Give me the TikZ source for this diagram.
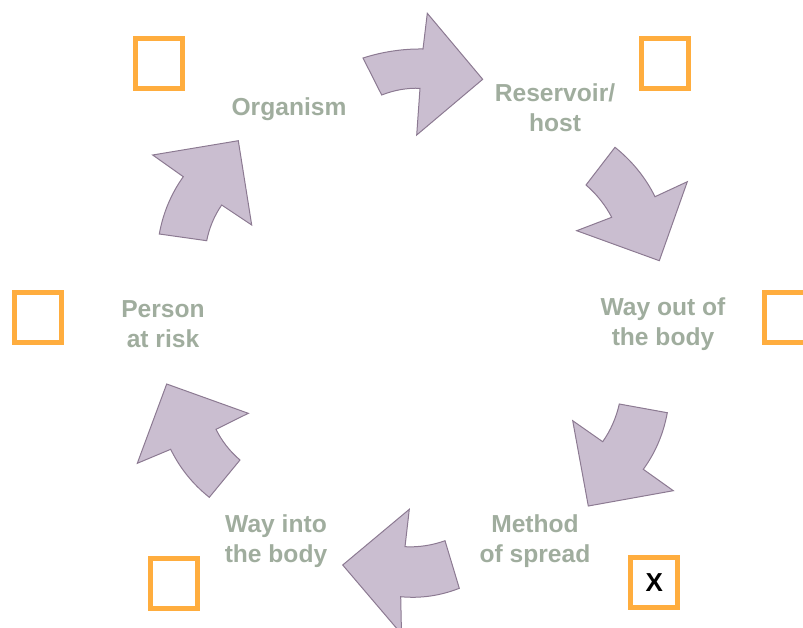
\documentclass[tikz,border=0pt]{standalone}
\usepackage{fontspec}
\setmainfont{Liberation Sans}
\definecolor{arrfill}{RGB}{202,190,208}
\definecolor{arrdraw}{RGB}{140,122,146}
\definecolor{lbl}{RGB}{160,173,158}
\definecolor{boxor}{RGB}{255,173,62}
\begin{document}
\begin{tikzpicture}[x=1pt,y=-1pt,
  cyclearrow/.style={fill=arrfill,draw=arrdraw,line width=1pt,line join=miter},
  stagelabel/.style={text=lbl,font=\fontsize{24.6}{30}\selectfont\bfseries,align=center,inner sep=0pt},
  tickbox/.style={draw=boxor,line width=5pt,minimum width=47pt,minimum height=50pt,inner sep=0pt,font=\fontsize{26}{30}\selectfont\bfseries}]
\useasboundingbox (0,0) rectangle (803,627);
\begin{scope}
\clip (0,0) rectangle (803,627);
% arrow 1 (top)
\draw[cyclearrow] (363,58) .. controls (382.8,51.7) and (402.8,48.7) .. (423,49) -- (427.3,13.3) -- (482.7,79.3) -- (416.7,135) -- (420,88.3) .. controls (407.2,87.8) and (394.4,90) .. (381.7,95) -- cycle;
% arrow 2 (upper right)
\draw[cyclearrow] (615,147.3) .. controls (632.3,161.2) and (645.6,177.7) .. (655,196.7) -- (687.3,181.7) -- (659.3,260.7) -- (576.7,230.7) -- (611.7,217.3) .. controls (605.4,205.2) and (596.9,194.4) .. (586,185) -- cycle;
% arrow 3 (lower right)
\draw[cyclearrow] (619.3,404) -- (667.3,412.7) .. controls (663.5,433.6) and (655.5,452.5) .. (643.3,469.3) -- (673.3,490.7) -- (588.3,506) -- (572.7,420.7) -- (602.7,441.7) .. controls (610.6,430.4) and (616.2,417.8) .. cycle;
% arrow 4 (bottom)
\draw[cyclearrow] (445,540.7) -- (459.3,588.3) .. controls (440.1,595.8) and (420.6,598.6) .. (400.7,596.7) -- (401.5,634) -- (342.7,565) -- (409.3,509.3) -- (405,546.7) .. controls (418.5,547.4) and (431.9,545.4) .. cycle;
% arrow 5 (lower left)
\draw[cyclearrow] (166.7,384) -- (248.3,413.3) -- (216,429.3) .. controls (221.8,441.1) and (229.8,451.3) .. (240,460) -- (209.3,497.3) .. controls (192.6,484) and (179.8,468) .. (170.7,449.3) -- (137.3,463.3) -- cycle;
% arrow 6 (upper left)
\draw[cyclearrow] (152.7,155) -- (238.3,140.7) -- (251.7,225) -- (221.7,205) .. controls (214.3,215.7) and (209.3,227.6) .. (206.7,240.7) -- (159.3,234) .. controls (163.1,212.9) and (171.1,193.8) .. (183.3,176.7) -- cycle;
% boxes
\node[tickbox] (bTL) at (159,63.5) {};
\node[tickbox] (bTR) at (664.5,63.5) {};
\node[tickbox] (bL) at (37.8,317.2) {};
\node[tickbox] (bR) at (787.8,317.2) {};
\node[tickbox] (bBL) at (174.2,583.3) {};
\node[tickbox] (bBR) at (654.2,582.5) {X};
\end{scope}
% labels
\node[stagelabel] (org) at (289,109) {Organism};
\node[stagelabel] (res) at (555,108) {Reservoir/\\host};
\node[stagelabel] (out) at (663,324) {Way out of\\the body};
\node[stagelabel] (spr) at (535,541) {Method\\of spread};
\node[stagelabel] (into) at (276,541) {Way into\\the body};
\node[stagelabel] (risk) at (163,324) {Person\\at risk};
\end{tikzpicture}
\end{document}
